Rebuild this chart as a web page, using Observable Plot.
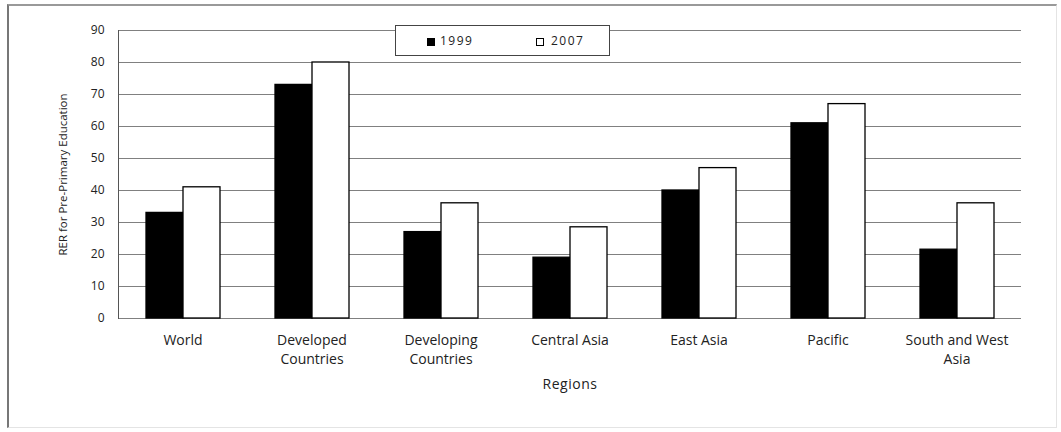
<!DOCTYPE html>
<html>
<head>
<meta charset="utf-8">
<script src="https://cdn.jsdelivr.net/npm/d3@7"></script>
<script src="https://cdn.jsdelivr.net/npm/@observablehq/plot@0.6"></script>
<style>
  html, body { margin: 0; padding: 0; background: #fff; }
  #wrap { position: relative; width: 1061px; height: 432px; overflow: hidden; font-family: "Open Sans", sans-serif; }
  #frame { position: absolute; left: 7px; top: 4px; width: 1050px; height: 424px; box-sizing: border-box;
           border-top: 2px solid #999; border-left: 2px solid #777; border-right: 1px solid #e4e4e4; border-bottom: 1px solid #e4e4e4; }
  #chart { position: absolute; left: 0; top: 0; }
  #legend { position: absolute; left: 395px; top: 25px; width: 215px; height: 31px; box-sizing: border-box;
            border: 1px solid #444; background: #fff; font-size: 12px; color: #222; letter-spacing: 1.5px; }
  .sw { position: absolute; top: 12px; width: 8px; height: 8px; box-sizing: border-box; border: 1px solid #000; }
  .lt { position: absolute; top: 7px; line-height: 15px; }
</style>
</head>
<body>
<div id="wrap">
  <div id="frame"></div>
  <div id="chart"></div>
  <div id="legend"></div>
</div>
<script>
const regions = ["World", "Developed Countries", "Developing Countries", "Central Asia", "East Asia", "Pacific", "South and West Asia"];
const regionLabels = ["World", "Developed\nCountries", "Developing\nCountries", "Central Asia", "East Asia", "Pacific", "South and West\nAsia"];
const years = ["1999", "2007"];
const values1999 = [33, 73, 27, 19, 40, 61, 21.5];
const values2007 = [41, 80, 36, 28.5, 47, 67, 36];
const yTicks = [0, 10, 20, 30, 40, 50, 60, 70, 80, 90];
const yearColors = ["#000000", "#ffffff"];

const data = [];
regions.forEach((r, i) => {
  data.push({region: r, year: years[0], value: values1999[i]});
  data.push({region: r, year: years[1], value: values2007[i]});
});
const labelOf = new Map(regions.map((r, i) => [r, regionLabels[i]]));

const chart = Plot.plot({
  width: 1061,
  height: 432,
  marginLeft: 117,
  marginRight: 40,
  marginTop: 30,
  marginBottom: 114,
  style: {fontFamily: "Open Sans, sans-serif", background: "transparent", overflow: "visible"},
  fx: {domain: regions, padding: 0},
  x: {domain: years, paddingInner: 0, paddingOuter: 0.743, axis: null},
  y: {domain: [0, 90], ticks: yTicks},
  color: {domain: years, range: yearColors},
  marks: [
    Plot.gridY(yTicks, {stroke: "#808080", strokeOpacity: 1, strokeWidth: 1}),
    Plot.frame({anchor: "left", stroke: "#555", facetAnchor: "left"}),
    Plot.barY(data, {fx: "region", x: "year", y: "value", fill: "year", stroke: "#000", strokeWidth: 1.3}),
    Plot.axisY(yTicks, {tickSize: 0, tickPadding: 14, fontSize: 12, fill: "#222", letterSpacing: 1.5,
      label: "RER for Pre-Primary Education", labelAnchor: "center", labelOffset: 60, labelArrow: "none"}),
    Plot.axisFx({anchor: "bottom", tickSize: 0, tickPadding: 14, fontSize: 14, fill: "#222", letterSpacing: 0.8,
      lineHeight: 1.3,
      tickFormat: d => labelOf.get(d), label: "Regions", labelAnchor: "center", labelOffset: 70, labelArrow: "none"})
  ]
});
document.getElementById("chart").appendChild(chart);

// style axis labels
d3.select(chart).selectAll("[aria-label='y-axis label'] text").attr("font-size", 11.5).attr("letter-spacing", 0);
d3.select(chart).selectAll("[aria-label='fx-axis label'] text").attr("font-size", 14).attr("letter-spacing", 0.5);

// legend
const legend = document.getElementById("legend");
const lx = [[31, 44], [140, 155]];
years.forEach((y, i) => {
  const sw = document.createElement("div");
  sw.className = "sw";
  sw.style.left = lx[i][0] + "px";
  sw.style.background = yearColors[i];
  legend.appendChild(sw);
  const t = document.createElement("div");
  t.className = "lt";
  t.style.left = lx[i][1] + "px";
  t.textContent = y;
  legend.appendChild(t);
});
</script>
</body>
</html>
